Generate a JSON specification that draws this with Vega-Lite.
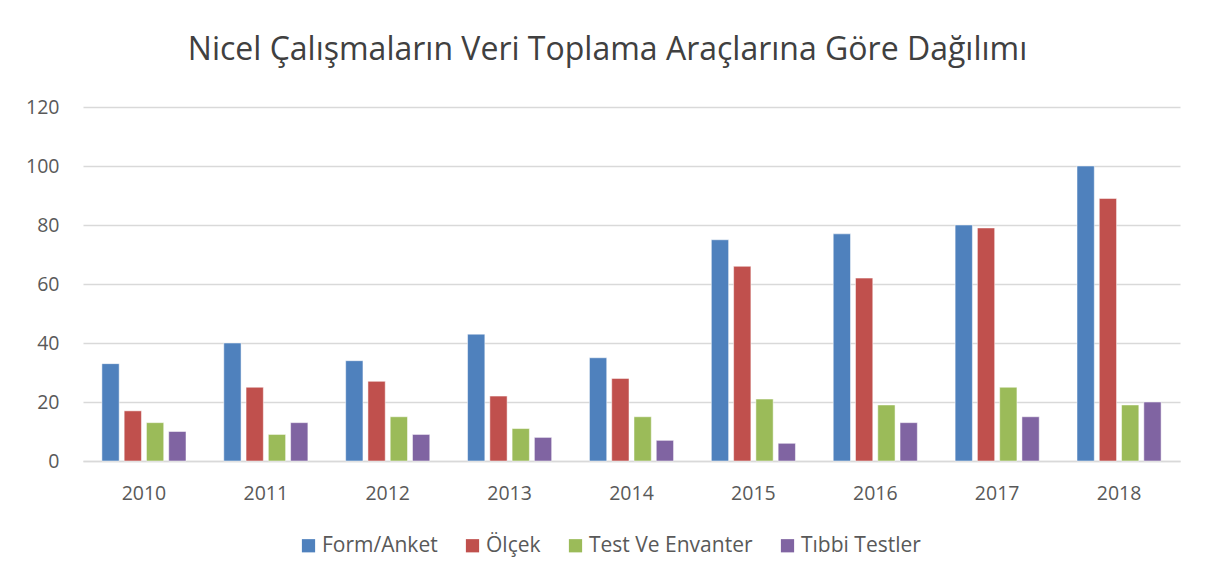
{
  "$schema": "https://vega.github.io/schema/vega-lite/v6.json",
  "autosize": "none",
  "width": 1097,
  "height": 354,
  "padding": {"left": 83, "top": 107, "right": 37, "bottom": 118},
  "background": "white",
  "title": {
    "text": "Nicel Çalışmaların Veri Toplama Araçlarına Göre Dağılımı",
    "anchor": "middle",
    "frame": "group",
    "dx": -24,
    "offset": 30,
    "font": "Open Sans",
    "fontSize": 32,
    "fontWeight": 400,
    "color": "#404040"
  },
  "data": {
    "values": [
      {"year": "2010", "tool": "Form/Anket", "value": 33},
      {"year": "2010", "tool": "Ölçek", "value": 17},
      {"year": "2010", "tool": "Test Ve Envanter", "value": 13},
      {"year": "2010", "tool": "Tıbbi Testler", "value": 10},
      {"year": "2011", "tool": "Form/Anket", "value": 40},
      {"year": "2011", "tool": "Ölçek", "value": 25},
      {"year": "2011", "tool": "Test Ve Envanter", "value": 9},
      {"year": "2011", "tool": "Tıbbi Testler", "value": 13},
      {"year": "2012", "tool": "Form/Anket", "value": 34},
      {"year": "2012", "tool": "Ölçek", "value": 27},
      {"year": "2012", "tool": "Test Ve Envanter", "value": 15},
      {"year": "2012", "tool": "Tıbbi Testler", "value": 9},
      {"year": "2013", "tool": "Form/Anket", "value": 43},
      {"year": "2013", "tool": "Ölçek", "value": 22},
      {"year": "2013", "tool": "Test Ve Envanter", "value": 11},
      {"year": "2013", "tool": "Tıbbi Testler", "value": 8},
      {"year": "2014", "tool": "Form/Anket", "value": 35},
      {"year": "2014", "tool": "Ölçek", "value": 28},
      {"year": "2014", "tool": "Test Ve Envanter", "value": 15},
      {"year": "2014", "tool": "Tıbbi Testler", "value": 7},
      {"year": "2015", "tool": "Form/Anket", "value": 75},
      {"year": "2015", "tool": "Ölçek", "value": 66},
      {"year": "2015", "tool": "Test Ve Envanter", "value": 21},
      {"year": "2015", "tool": "Tıbbi Testler", "value": 6},
      {"year": "2016", "tool": "Form/Anket", "value": 77},
      {"year": "2016", "tool": "Ölçek", "value": 62},
      {"year": "2016", "tool": "Test Ve Envanter", "value": 19},
      {"year": "2016", "tool": "Tıbbi Testler", "value": 13},
      {"year": "2017", "tool": "Form/Anket", "value": 80},
      {"year": "2017", "tool": "Ölçek", "value": 79},
      {"year": "2017", "tool": "Test Ve Envanter", "value": 25},
      {"year": "2017", "tool": "Tıbbi Testler", "value": 15},
      {"year": "2018", "tool": "Form/Anket", "value": 100},
      {"year": "2018", "tool": "Ölçek", "value": 89},
      {"year": "2018", "tool": "Test Ve Envanter", "value": 19},
      {"year": "2018", "tool": "Tıbbi Testler", "value": 20}
    ]
  },
  "mark": {"type": "bar", "stroke": "white", "strokeWidth": 0.5},
  "encoding": {
    "x": {
      "field": "year",
      "type": "nominal",
      "scale": {"paddingInner": 0.31, "paddingOuter": 0.155},
      "axis": {
        "title": null,
        "labelAngle": 0,
        "ticks": false,
        "domainColor": "#d9d9d9",
        "domainWidth": 1.3,
        "labelFont": "Open Sans",
        "labelFontSize": 19.5,
        "labelColor": "#595959",
        "labelPadding": 23
      }
    },
    "xOffset": {
      "field": "tool",
      "type": "nominal",
      "sort": ["Form/Anket", "Ölçek", "Test Ve Envanter", "Tıbbi Testler"],
      "scale": {"paddingInner": 0.224, "paddingOuter": 0}
    },
    "y": {
      "field": "value",
      "type": "quantitative",
      "scale": {"domain": [0, 120]},
      "axis": {
        "title": null,
        "values": [0, 20, 40, 60, 80, 100, 120],
        "domain": false,
        "ticks": false,
        "gridColor": "#d9d9d9",
        "gridWidth": 1.3,
        "labelFont": "Open Sans",
        "labelFontSize": 19.5,
        "labelColor": "#595959",
        "labelPadding": 24
      }
    },
    "color": {
      "field": "tool",
      "type": "nominal",
      "scale": {
        "domain": ["Form/Anket", "Ölçek", "Test Ve Envanter", "Tıbbi Testler"],
        "range": ["#4F81BD", "#C0504D", "#9BBB59", "#8064A2"]
      },
      "legend": {
        "title": null,
        "orient": "none",
        "direction": "horizontal",
        "legendX": 215,
        "legendY": 428,
        "symbolType": "square",
        "symbolSize": 175,
        "symbolStrokeWidth": 0,
        "labelFont": "Open Sans",
        "labelFontSize": 21,
        "labelColor": "#595959",
        "labelOffset": 3,
        "labelLimit": 400,
        "columnPadding": 24
      }
    }
  },
  "config": {
    "view": {"stroke": null}
  }
}
